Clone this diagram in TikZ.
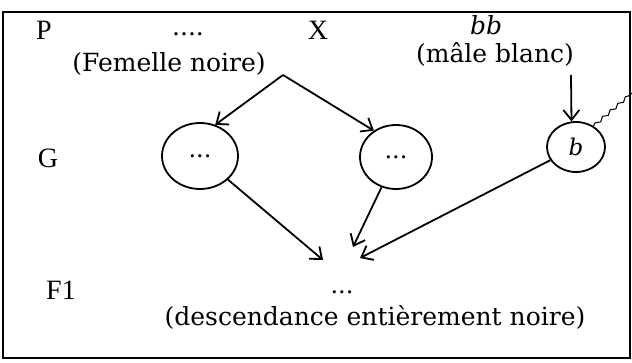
\documentclass[tikz,border=0pt]{standalone}
\usepackage{fontspec}
\setmainfont{Liberation Serif}
\newfontfamily\descfont{DejaVu Serif}
\usetikzlibrary{arrows.meta,shapes.geometric,decorations.pathmorphing}
\begin{document}
\begin{tikzpicture}[x=1pt,y=-1pt,
  lbl/.style={font=\fontsize{28}{28}\selectfont, inner sep=0pt},
  desc/.style={font=\descfont\fontsize{25}{25}\selectfont, inner sep=0pt},
  gam/.style={draw, ellipse, line width=1.8pt, inner sep=0pt, font=\descfont\fontsize{24}{24}\selectfont},
  arr/.style={line width=1.8pt, -{Straight Barb[length=10pt,width=16pt,line width=1.8pt]}},
  plain/.style={line width=1.8pt}]
\useasboundingbox (0,0) rectangle (632,363);
\draw[line width=2pt] (3,12) rectangle (630,358);
% row labels
\node[lbl] (P) at (44,30) {P};
\node[lbl] (G) at (48,158) {G};
\node[lbl] (F) at (61,290) {F1};
\node[lbl] (X) at (318,30) {X};
% parents
\node[desc, anchor=base] (fdots) at (188,36) {....};
\node[desc] (fem) at (169,64) {(Femelle noire)};
\node[desc, font=\descfont\itshape\fontsize{25}{25}\selectfont] (bb) at (486,25) {bb};
\node[desc] (male) at (495,54) {(mâle blanc)};
% gametes
\node[gam, minimum width=76pt, minimum height=66pt] (c1) at (200,156) {...};
\node[gam, minimum width=72pt, minimum height=64pt] (c2) at (396,157) {...};
\node[gam, minimum width=58pt, minimum height=50pt, font=\descfont\itshape\fontsize{23}{23}\selectfont] (cb) at (576,147) {b};
% F1
\node[desc, anchor=base, font=\descfont\fontsize{24}{24}\selectfont] (f1dots) at (342,294) {...};
\node[desc] (descnode) at (375,317) {(descendance entièrement noire)};
% connectors
\coordinate (fork) at (283,75);
\coordinate (mtop) at (571,75);
\coordinate (t1) at (323,260);
\coordinate (t2) at (353,247);
\coordinate (t3) at (360,258);
\coordinate (wend) at (632,93);
\draw[arr] (fork) -- (c1.64);
\draw[arr] (fork) -- (c2.130);
\draw[arr] (mtop) -- (cb.100);
\draw[arr] (c1) -- (t1);
\draw[arr] (c2) -- (t2);
\draw[arr] (cb) -- (t3);
\draw[line width=1pt, decorate, decoration={snake, amplitude=1.5pt, segment length=10pt}] (cb.50) -- (wend);
\end{tikzpicture}
\end{document}
